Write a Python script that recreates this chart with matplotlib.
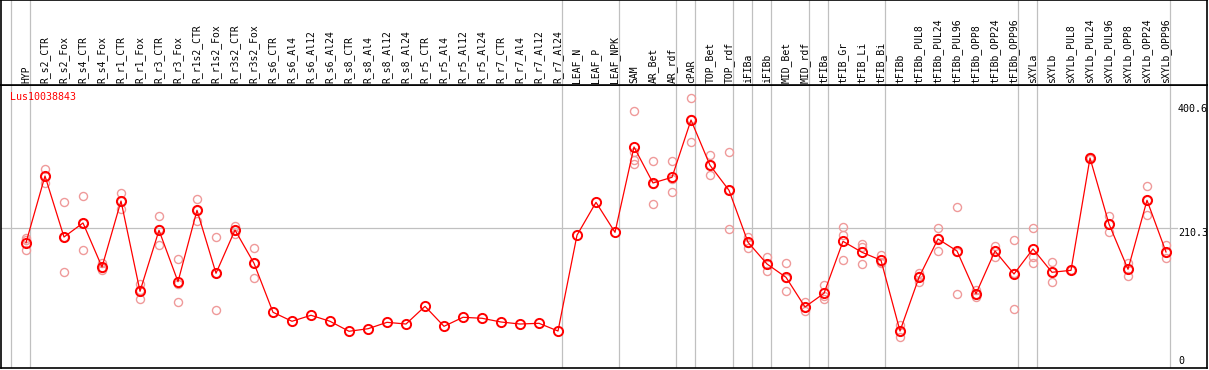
import matplotlib
matplotlib.use("Agg")
import matplotlib.pyplot as plt
import numpy as np

categories = ["HYP", "R_s2_CTR", "R_s2_Fox", "R_s4_CTR", "R_s4_Fox", "R_r1_CTR", "R_r1_Fox",
              "R_r3_CTR", "R_r3_Fox", "R_r1s2_CTR", "R_r1s2_Fox", "R_r3s2_CTR", "R_r3s2_Fox",
              "R_s6_CTR", "R_s6_Al4", "R_s6_Al12", "R_s6_Al24", "R_s8_CTR", "R_s8_Al4", "R_s8_Al12",
              "R_s8_Al24", "R_r5_CTR", "R_r5_Al4", "R_r5_Al12", "R_r5_Al24", "R_r7_CTR", "R_r7_Al4",
              "R_r7_Al12", "R_r7_Al24", "LEAF_N", "LEAF_P", "LEAF_NPK", "SAM", "AR_Bet", "AR_rdf",
              "cPAR", "TOP_Bet", "TOP_rdf", "iFIBa", "iFIBb", "MID_Bet", "MID_rdf", "tFIBa",
              "tFIB_Gr", "tFIB_Li", "tFIB_Bi", "tFIBb", "tFIBb_PUL8", "tFIBb_PUL24", "tFIBb_PUL96",
              "tFIBb_OPP8", "tFIBb_OPP24", "tFIBb_OPP96", "sXYLa", "sXYLb", "sXYLb_PUL8",
              "sXYLb_PUL24", "sXYLb_PUL96", "sXYLb_OPP8", "sXYLb_OPP24", "sXYLb_OPP96"]

mean_values = [188.3, 290.4, 197.0, 218.5, 151.1, 252.1, 113.9, 207.3, 128.6, 237.9, 141.5,
               207.7, 156.8, 81.8, 68.0, 77.2, 68.0, 52.7, 56.6, 66.4, 63.8, 90.9, 60.3, 74.1,
               72.6, 66.9, 63.8, 64.9, 53.1, 199.8, 250.1, 204.2, 334.8, 279.7, 288.4, 376.1,
               306.8, 268.5, 188.9, 155.7, 135.3, 89.9, 110.8, 190.4, 173.6, 161.4, 53.1, 135.3,
               194.0, 175.6, 110.2, 175.6, 140.4, 178.7, 143.0, 146.0, 318.0, 216.9, 147.6,
               253.2, 174.1]

replicates = [
    [195.0, 192.4, 177.1], [301.1, 290.4, 279.7], [250.6, 197.0, 143.0], [259.3, 218.9, 177.1],
    [156.8, 150.0, 146.5], [264.4, 252.6, 239.4], [124.6, 115.3, 101.7], [228.7, 208.7, 184.3],
    [162.9, 125.4, 97.5], [254.7, 237.7, 221.1], [197.0, 142.4, 84.8], [214.3, 207.7, 201.2],
    [179.7, 156.8, 133.8],
    [], [], [], [], [], [], [], [], [], [], [], [], [], [], [], [],
    [], [], [],
    [389.9, 327.2, 314.9, 308.8], [313.4, 278.6, 247.1], [313.4, 286.4, 265.5],
    [409.4, 377.1, 342.0], [322.1, 306.8, 291.5], [327.2, 269.0, 209.3],
    [197.5, 188.5, 180.6], [166.4, 156.2, 144.5], [157.2, 134.3, 114.4], [97.1, 89.3, 83.3],
    [123.5, 106.4, 102.6], [212.3, 199.6, 161.4], [186.8, 182.2, 155.7], [169.5, 159.2, 156.8],
    [62.3, 53.7, 43.2], [141.5, 136.9, 127.7], [210.8, 196.0, 175.1], [242.5, 174.5, 109.8],
    [115.9, 109.3, 105.6], [183.7, 176.2, 166.9], [192.4, 141.9, 86.8],
    [210.3, 166.9, 156.8], [158.3, 143.0, 127.7], [146.0, 146.0, 146.0], [319.5, 318.0, 316.4],
    [228.7, 216.9, 204.7], [157.7, 147.6, 136.9], [275.1, 253.2, 230.2], [184.3, 174.1, 164.4],
]

# group separators: after these category indices
separator_after = [-1, 0, 28, 31, 34, 35, 37, 38, 39, 41, 42, 45, 52, 53, 60]
axis_labels = [400.6, 210.3, 0]
gene_name = "Lus10038843"

W, H = 1209, 370
fig = plt.figure(figsize=(W / 100, H / 100), dpi=100)
fig.patch.set_facecolor("white")

left_px, right_px = 1, 1207
top_label_px, plot_top_px, plot_bot_px = 0, 85, 368

ax = fig.add_axes([left_px / W, (H - plot_bot_px) / H,
                   (right_px - left_px) / W, (plot_bot_px - plot_top_px) / H])
axl = fig.add_axes([left_px / W, (H - plot_top_px) / H,
                    (right_px - left_px) / W, (plot_top_px - top_label_px) / H])

xmin, xmax = -25 / 19, 1181 / 19
ax.set_xlim(xmin, xmax)
ax.set_ylim(-3.52, 429.7)
axl.set_xlim(xmin, xmax)
axl.set_ylim(0, 1)

for a in (ax, axl):
    a.set_xticks([])
    a.set_yticks([])
    for s in a.spines.values():
        s.set_linewidth(1.2)
        s.set_color("black")

grey = "#c0c0c0"
x = np.arange(len(categories))

# separators
for i in separator_after:
    xs = i + 0.2
    ax.axvline(xs, color=grey, lw=0.9, zorder=1)
    axl.axvline(xs, color=grey, lw=0.9, zorder=1)

# horizontal mid line
ax.plot([xmin, (1177 - 26) / 19], [axis_labels[1]] * 2, color=grey, lw=0.9, zorder=1)

# replicate points
rx, ry = [], []
for i, reps in enumerate(replicates):
    for v in reps:
        rx.append(i)
        ry.append(v)
ax.plot(rx, ry, linestyle="none", marker="o", markersize=5.8, markerfacecolor="none",
        markeredgecolor="#ef9a9a", markeredgewidth=1.0, zorder=2)

# mean line
ax.plot(x, mean_values, color="#ff0000", lw=0.9, zorder=3)
ax.plot(x, mean_values, linestyle="none", marker="o", markersize=6.6, markerfacecolor="none",
        markeredgecolor="#ff0000", markeredgewidth=1.4, zorder=4)

mono = "DejaVu Sans Mono"
# category labels
for i, c in enumerate(categories):
    axl.text(i, 2 / 85, c, rotation=90, ha="center", va="bottom", fontsize=7,
             family=mono, color="black")

# right labels
xl = (1178 - 26) / 19
ax.text(xl, axis_labels[0], f"{axis_labels[0]}", ha="left", va="top", fontsize=7.2,
        family=mono, color="black", clip_on=True)
ax.text(xl, axis_labels[1], f"{axis_labels[1]}", ha="left", va="top", fontsize=7.2,
        family=mono, color="black", clip_on=True)
ax.text(xl, axis_labels[2], "0", ha="left", va="bottom", fontsize=7.2,
        family=mono, color="black")

fig.text(10 / W, 1 - 97 / H, gene_name, ha="left", va="center", fontsize=7.2,
         family=mono, color="#ff0000")

fig.savefig("out.png", dpi=100, facecolor="white")
